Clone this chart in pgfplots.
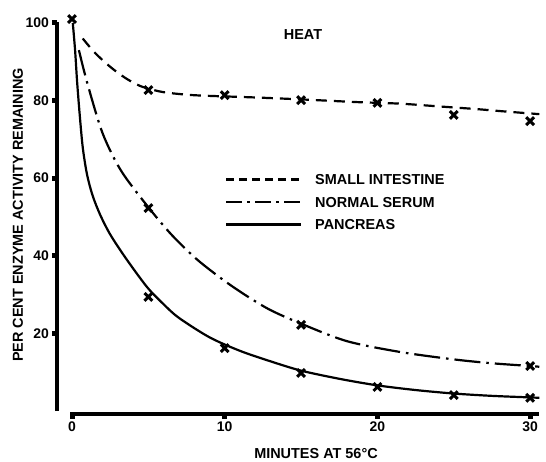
\documentclass[border=0pt]{standalone}
\usepackage{fontspec}
\setmainfont{Liberation Sans}
\usepackage{pgfplots}
\pgfplotsset{compat=1.18}
\begin{document}
\begin{tikzpicture}
\path[use as bounding box] (-70.5bp,-51bp) rectangle (475.5bp,411bp);
\begin{axis}[
  at={(0,0)}, anchor=south west,
  scale only axis, width=468.8bp, height=389.2bp,
  xmin=-0.1, xmax=30.6, ymin=0, ymax=100.3,
  axis x line*=bottom, axis y line*=left,
  axis x line shift=3bp, axis y line shift=13.5bp,
  axis line style={-, line width=4.5bp},
  xtick={0,10,20,30}, ytick={20,40,60,80,100},
  tick align=outside, major tick length=4.5bp,
  tick style={line width=5bp, black},
  /pgf/number format/assume math mode=true,
  ticklabel style={font=\bfseries\fontsize{14}{16}\selectfont},
  clip=false,
  legend style={draw=none, fill=none, at={(0.3296,0.537)}, anchor=west,
    inner sep=0pt, outer sep=0pt, row sep=12bp, column sep=13bp,
    nodes={inner sep=0pt, text height=10.5bp, text depth=0pt,
      font=\bfseries\fontsize{14.5}{17}\selectfont}},
  legend cell align=left,
  legend image code/.code={\draw[#1] (0bp,0bp) -- (75bp,0bp);},
]
% curves
\addplot[black, line width=2.2bp, smooth, dash pattern=on 11bp off 7bp, forget plot] coordinates {
(0.7,96) (1.5,92.3) (2.5,88.7) (3.5,85.8) (4.5,83.7) (5.8,82.3) (7,81.7) (8.4,81.3)
(12,80.8) (15,80.3) (18.7,79.6) (21.5,79.2) (24,78.5) (26.5,77.8) (28,77.3) (30.6,76.5)};
\addplot[black, line width=2.2bp, smooth, dash pattern=on 26bp off 6bp on 2.5bp off 6bp, forget plot] coordinates {
(0.45,93) (1.0,84.5) (2.0,71.6) (3.2,62) (4.9,53) (6.5,45.5) (8.2,39) (10,33.5)
(11.5,29.5) (13,26) (15,22.5) (18,18) (21.5,15.2) (25,13.3) (27.5,12.3) (30,11.6) (30.6,11.4)};
\addplot[black, line width=2.2bp, smooth, forget plot] coordinates {
(0.05,100) (0.2,93) (0.33,85) (0.5,76.5) (0.7,68) (0.98,61) (1.35,55.5) (1.85,50.5)
(2.5,45.5) (3.5,39.5) (4.9,32) (6,27.5) (7,24) (9,19) (11,15.5) (13,12.8) (15,10.4)
(17.5,8.3) (20,6.6) (22.5,5.4) (25,4.5) (27.5,3.9) (30,3.5) (30.6,3.4)};
% measured points
\addplot[black, only marks, mark=x, mark size=5.5bp, mark options={line width=3bp}, forget plot] coordinates {
(5,82.7) (10,81.4) (15,80.1) (20,79.4) (25,76.3) (30,74.7)};
\addplot[black, only marks, mark=x, mark size=5.5bp, mark options={line width=3bp}, forget plot] coordinates {
(5,52.3) (15,22.2) (30,11.6)};
\addplot[black, only marks, mark=x, mark size=5.5bp, mark options={line width=3bp}, forget plot] coordinates {
(0,101) (5,29.4) (10,16.2) (15,9.8) (20,6.2) (25,4.1) (30,3.4)};
% legend
\addlegendimage{black, line width=2.2bp, dash pattern=on 8bp off 5bp}
\addlegendentry{SMALL INTESTINE}
\addlegendimage{black, line width=2.2bp, dash pattern=on 16bp off 5bp on 3bp off 5bp}
\addlegendentry{NORMAL SERUM}
\addlegendimage{black, line width=2.2bp}
\addlegendentry{PANCREAS}
\end{axis}
\node[font=\bfseries\fontsize{14.5}{17}\selectfont, inner sep=0pt] at (232.5bp,376bp) {HEAT};
\node[font=\bfseries\fontsize{14.5}{17}\selectfont, inner sep=0pt] at (245.5bp,-43bp) {MINUTES AT 56°C};
\node[font=\bfseries\fontsize{14.5}{17}\selectfont, inner sep=0pt, rotate=90] at (-52.5bp,196bp) {PER CENT ENZYME ACTIVITY REMAINING};
\end{tikzpicture}
\end{document}
